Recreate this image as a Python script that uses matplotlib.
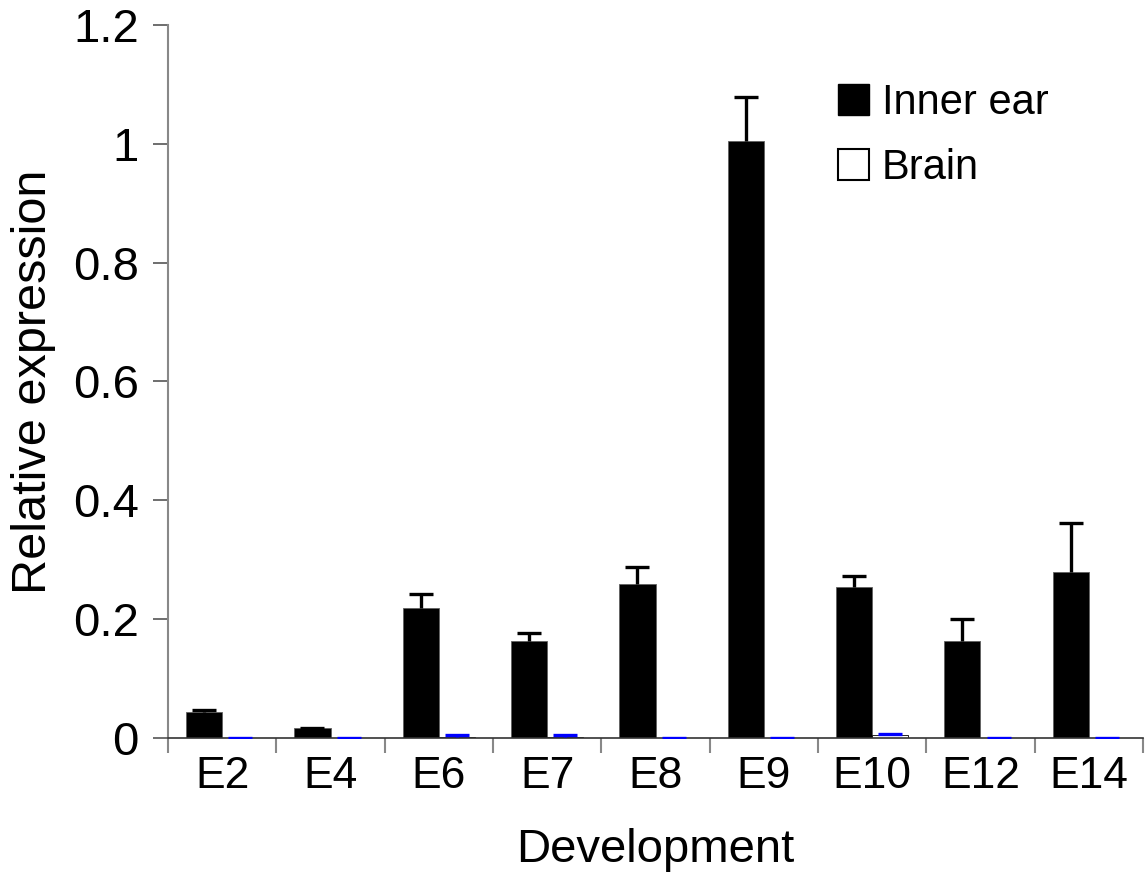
import matplotlib
matplotlib.use("Agg")
import matplotlib.pyplot as plt
import numpy as np
from matplotlib.patches import Patch

plt.rcParams['font.family'] = ['Liberation Sans', 'DejaVu Sans']

categories = ["E2", "E4", "E6", "E7", "E8", "E9", "E10", "E12", "E14"]
inner_ear = [0.043, 0.017, 0.218, 0.163, 0.259, 1.005, 0.254, 0.163, 0.279]
inner_ear_err = [0.004, 0.0, 0.024, 0.014, 0.029, 0.073, 0.019, 0.038, 0.083]
brain = [0.0005, 0.0005, 0.002, 0.002, 0.0005, 0.0005, 0.005, 0.0005, 0.0005]
brain_err = [0.0, 0.0, 0.003, 0.003, 0.0, 0.0, 0.001, 0.0, 0.0]
yticks = [0, 0.2, 0.4, 0.6, 0.8, 1, 1.2]
ytick_labels = ["0", "0.2", "0.4", "0.6", "0.8", "1", "1.2"]

fig = plt.figure(figsize=(11.46, 8.76), dpi=100)
ax = fig.add_axes([168/1146, 1-738/876, (1143-168)/1146, (738-25)/876])

x = np.arange(len(categories))
w = 1/3


def upper_errorbar(xs, ys, errs, color):
    eb = ax.errorbar(xs, ys, yerr=[np.zeros(len(xs)), errs], fmt='none',
                     ecolor=color, elinewidth=2.4, capsize=8.6, capthick=2.4, zorder=3)
    caps = eb[1]
    # hide the lower caps (those sitting on the bar tops)
    for cl in caps:
        yd = np.asarray(cl.get_ydata(), dtype=float)
        if np.allclose(yd, np.asarray(ys, dtype=float)):
            cl.set_visible(False)
            break


ax.bar(x - w/2, inner_ear, width=w, color='black', edgecolor='#606060', linewidth=0.6, zorder=2)
upper_errorbar(x - w/2, inner_ear, inner_ear_err, 'black')
ax.bar(x + w/2, brain, width=w, color='white', edgecolor='black', linewidth=0.6, zorder=2)
upper_errorbar(x + w/2, brain, brain_err, '#0000ff')

ax.set_xlim(-0.5, len(categories) - 0.5)
ax.set_ylim(0, 1.2)
ax.set_yticks(yticks)
ax.set_yticklabels(ytick_labels, fontsize=34)
ax.set_xticks(np.arange(len(categories) + 1) - 0.5)
ax.set_xticklabels([])
ax.set_xticks(x, minor=True)
ax.set_xticklabels(categories, minor=True, fontsize=32)
ax.tick_params(axis='x', which='minor', length=0, pad=13)
ax.tick_params(axis='x', which='major', length=11, width=1.5, color='#888888', direction='out')
ax.tick_params(axis='y', length=11, width=1.2, color='#555555', direction='out', pad=10)

for s in ['top', 'right']:
    ax.spines[s].set_visible(False)
ax.spines['left'].set_color('#888888')
ax.spines['left'].set_linewidth(1.5)
ax.spines['bottom'].set_color('#333333')
ax.spines['bottom'].set_linewidth(1.2)

ax.set_ylabel("Relative expression", fontsize=35, labelpad=12)
ax.set_xlabel("Development", fontsize=34, labelpad=22)

handles = [Patch(facecolor='black', edgecolor='black', label='Inner ear'),
           Patch(facecolor='white', edgecolor='black', linewidth=1.5, label='Brain')]
leg = ax.legend(handles=handles, loc='upper left', bbox_to_anchor=(0.67, 0.942), frameon=False,
                fontsize=30, handlelength=0.75, handleheight=0.75, handletextpad=0.3,
                labelspacing=0.6, borderaxespad=0)

fig.savefig("out.png", dpi=100)
